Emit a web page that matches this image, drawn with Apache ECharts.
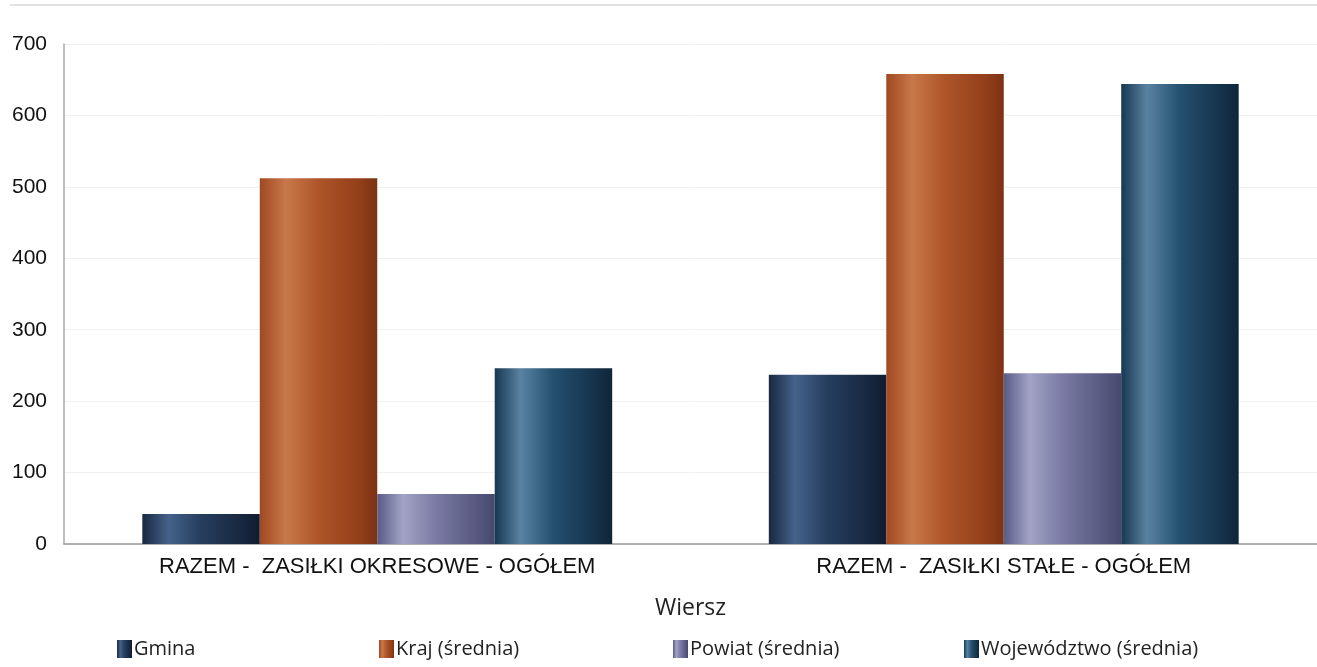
<!DOCTYPE html>
<html lang="pl" style="height: 100%">
<head>
  <meta charset="utf-8">
</head>
<body style="height: 100%; margin: 0; background: #fff">
  <div id="container" style="height: 100%"></div>

  <script type="text/javascript" src="https://cdn.jsdelivr.net/npm/echarts@6/dist/echarts.min.js"></script>
  <script type="text/javascript">
    // dane
    var categories = ['RAZEM -  ZASIŁKI OKRESOWE - OGÓŁEM', 'RAZEM -  ZASIŁKI STAŁE - OGÓŁEM'];
    var seriesNames = ['Gmina', 'Kraj (średnia)', 'Powiat (średnia)', 'Województwo (średnia)'];
    var gmina = [42, 237];
    var kraj = [512, 658];
    var powiat = [70, 239];
    var wojewodztwo = [246, 644];
    var yTicks = [0, 100, 200, 300, 400, 500, 600, 700];

    var dom = document.getElementById('container');
    var myChart = echarts.init(dom, null, { renderer: 'canvas' });

    // cylinder-like shading, one palette per series
    var palettes = [
      ['#182840', '#45628a', '#263e5e', '#17273f', '#101c30'],
      ['#a04822', '#c8784a', '#ae5529', '#923e1a', '#7c3313'],
      ['#5a5b86', '#a2a3c6', '#7a7aa4', '#57587f', '#47486c'],
      ['#173852', '#5a82a2', '#24506f', '#15324a', '#0f263a']
    ];

    function shade(p) {
      return new echarts.graphic.LinearGradient(0, 0, 1, 0, [
        { offset: 0, color: p[0] },
        { offset: 0.22, color: p[1] },
        { offset: 0.5, color: p[2] },
        { offset: 0.85, color: p[3] },
        { offset: 1, color: p[4] }
      ]);
    }

    var values = [gmina, kraj, powiat, wojewodztwo];
    var legendLeft = [112, 374, 668, 959];

    var series = seriesNames.map(function (name, i) {
      return {
        name: name,
        type: 'bar',
        data: values[i],
        barGap: '0%',
        barCategoryGap: '25%',
        itemStyle: {
          color: shade(palettes[i])
        }
      };
    });

    var legends = seriesNames.map(function (name, i) {
      return {
        data: [name],
        left: legendLeft[i],
        top: 634,
        icon: 'rect',
        itemWidth: 15,
        itemHeight: 18,
        itemGap: 4,
        textStyle: { fontFamily: 'Open Sans', fontSize: 20, color: '#222', padding: [0, 0, 0, -3] }
      };
    });

    var option = {
      animation: false,
      color: palettes.map(function (p) { return shade(p); }),
      legend: legends,
      grid: { left: 64, right: -4, top: 44, bottom: 123, containLabel: false },
      graphic: [{
        type: 'line',
        shape: { x1: 10, y1: 5, x2: 1317, y2: 5 },
        style: { stroke: '#e2e2e2', lineWidth: 2 }
      }],
      xAxis: {
        type: 'category',
        data: categories,
        name: 'Wiersz',
        nameLocation: 'middle',
        nameGap: 53,
        nameTextStyle: { fontFamily: 'Open Sans', fontSize: 23, color: '#222' },
        axisLine: { lineStyle: { color: '#999', width: 1.5 } },
        axisTick: { show: false },
        axisLabel: { fontFamily: 'Liberation Sans', fontSize: 22, color: '#111', margin: 12 }
      },
      yAxis: {
        type: 'value',
        min: yTicks[0],
        max: yTicks[yTicks.length - 1],
        interval: 100,
        axisLine: { show: true, lineStyle: { color: '#aaa', width: 1.5 } },
        axisTick: { show: false },
        splitLine: { lineStyle: { color: '#f0f0f0' } },
        axisLabel: { fontFamily: 'Liberation Sans', fontSize: 21, color: '#111', margin: 17 }
      },
      series: series
    };

    myChart.setOption(option);
    window.addEventListener('resize', myChart.resize);
  </script>
</body>
</html>
